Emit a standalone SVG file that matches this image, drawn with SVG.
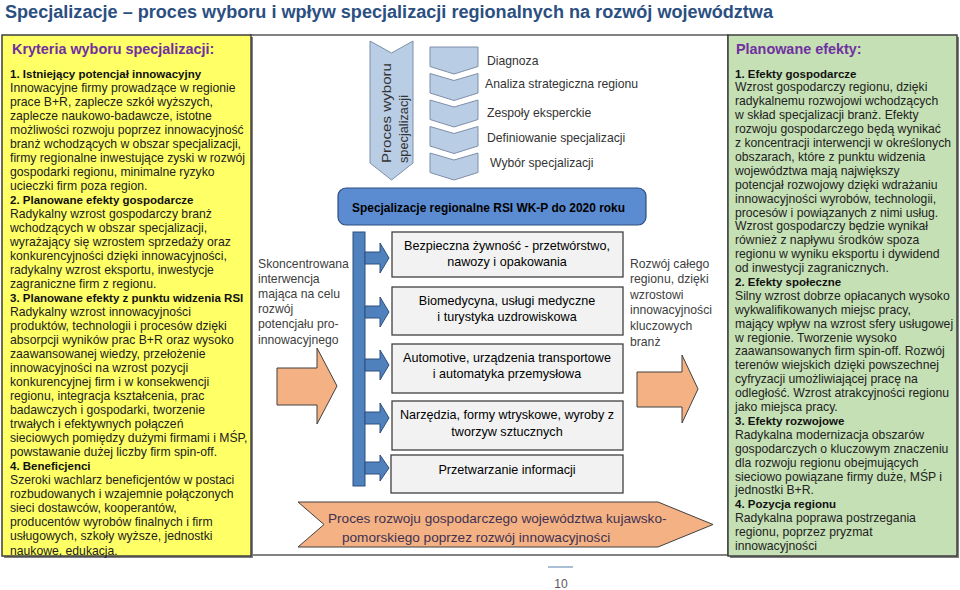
<svg xmlns="http://www.w3.org/2000/svg" width="960" height="590" viewBox="0 0 960 590">
<style>
.t{font-family:"Liberation Sans",Arial,sans-serif;}
.body{font-size:12.2px;fill:#222;}
.bold{font-weight:bold;font-size:11.5px;fill:#111;}
.head{font-weight:bold;font-size:14.4px;fill:#7030A0;}
.gray{font-size:12.2px;fill:#404040;}
.box{fill:#F2F2F2;stroke:#404040;stroke-width:1.3;}
.btxt{font-size:12.6px;fill:#000;text-anchor:middle;}
.chev{fill:#B9CDE5;stroke:#7F8FA9;stroke-width:1;}
.blue{fill:#4F81BD;stroke:#2F4F7F;stroke-width:1;}
.orange{fill:#F4B183;stroke:#404040;stroke-width:1;}
</style>
<rect width="960" height="590" fill="#fff"/>
<text class="t" x="5" y="18" font-size="18" font-weight="bold" fill="#2B4F81" textLength="768" lengthAdjust="spacingAndGlyphs">Specjalizacje – proces wyboru i wpływ specjalizacji regionalnych na rozwój województwa</text>

<g id="frame">
<rect x="250" y="35" width="478" height="520" fill="#fff" stroke="#404040" stroke-width="1.3"/>
</g>

<g id="kryteria">
<rect x="4" y="37" width="249" height="521" fill="#808080"/>
<rect x="2" y="35" width="249" height="521" fill="#FFFF66" stroke="#3F3F3F" stroke-width="1.5"/>
<text class="t head" x="12" y="54">Kryteria wyboru specjalizacji:</text>
<text class="t body">
<tspan x="10" y="77.5" class="bold">1. Istniejący potencjał innowacyjny</tspan>
<tspan x="10" dy="14.03">Innowacyjne firmy prowadzące w regionie</tspan>
<tspan x="10" dy="14.03">prace B+R, zaplecze szkół wyższych,</tspan>
<tspan x="10" dy="14.03">zaplecze naukowo-badawcze, istotne</tspan>
<tspan x="10" dy="14.03">możliwości rozwoju poprzez innowacyjność</tspan>
<tspan x="10" dy="14.03">branż wchodzących w obszar specjalizacji,</tspan>
<tspan x="10" dy="14.03">firmy regionalne inwestujące zyski w rozwój</tspan>
<tspan x="10" dy="14.03">gospodarki regionu, minimalne ryzyko</tspan>
<tspan x="10" dy="14.03">ucieczki firm poza region.</tspan>
<tspan x="10" dy="14.03" class="bold">2. Planowane efekty gospodarcze</tspan>
<tspan x="10" dy="14.03">Radykalny wzrost gospodarczy branż</tspan>
<tspan x="10" dy="14.03">wchodzących w obszar specjalizacji,</tspan>
<tspan x="10" dy="14.03">wyrażający się wzrostem sprzedaży oraz</tspan>
<tspan x="10" dy="14.03">konkurencyjności dzięki innowacyjności,</tspan>
<tspan x="10" dy="14.03">radykalny wzrost eksportu, inwestycje</tspan>
<tspan x="10" dy="14.03">zagraniczne firm z regionu.</tspan>
<tspan x="10" dy="14.03" class="bold">3. Planowane efekty z punktu widzenia RSI</tspan>
<tspan x="10" dy="14.03">Radykalny wzrost innowacyjności</tspan>
<tspan x="10" dy="14.03">produktów, technologii i procesów dzięki</tspan>
<tspan x="10" dy="14.03">absorpcji wyników prac B+R oraz wysoko</tspan>
<tspan x="10" dy="14.03">zaawansowanej wiedzy, przełożenie</tspan>
<tspan x="10" dy="14.03">innowacyjności na wzrost pozycji</tspan>
<tspan x="10" dy="14.03">konkurencyjnej firm i w konsekwencji</tspan>
<tspan x="10" dy="14.03">regionu, integracja kształcenia, prac</tspan>
<tspan x="10" dy="14.03">badawczych i gospodarki, tworzenie</tspan>
<tspan x="10" dy="14.03">trwałych i efektywnych połączeń</tspan>
<tspan x="10" dy="14.03">sieciowych pomiędzy dużymi firmami i MŚP,</tspan>
<tspan x="10" dy="14.03">powstawanie dużej liczby firm spin-off.</tspan>
<tspan x="10" dy="14.03" class="bold">4. Beneficjenci</tspan>
<tspan x="10" dy="14.03">Szeroki wachlarz beneficjentów w postaci</tspan>
<tspan x="10" dy="14.03">rozbudowanych i wzajemnie połączonych</tspan>
<tspan x="10" dy="14.03">sieci dostawców, kooperantów,</tspan>
<tspan x="10" dy="14.03">producentów wyrobów finalnych i firm</tspan>
<tspan x="10" dy="14.03">usługowych, szkoły wyższe, jednostki</tspan>
<tspan x="10" dy="14.03">naukowe, edukacja.</tspan>
</text>
</g>

<g id="efekty">
<rect x="730" y="37" width="229" height="521" fill="#808080"/>
<rect x="728" y="35" width="229" height="521" fill="#C5E0B4" stroke="#3F3F3F" stroke-width="1.5"/>
<text class="t head" x="736" y="54">Planowane efekty:</text>
<text class="t body">
<tspan x="735" y="77.5" class="bold">1. Efekty gospodarcze</tspan>
<tspan x="735" dy="13.9">Wzrost gospodarczy regionu, dzięki</tspan>
<tspan x="735" dy="13.9">radykalnemu rozwojowi wchodzących</tspan>
<tspan x="735" dy="13.9">w skład specjalizacji branż. Efekty</tspan>
<tspan x="735" dy="13.9">rozwoju gospodarczego będą wynikać</tspan>
<tspan x="735" dy="13.9">z koncentracji interwencji w określonych</tspan>
<tspan x="735" dy="13.9">obszarach, które z punktu widzenia</tspan>
<tspan x="735" dy="13.9">województwa mają największy</tspan>
<tspan x="735" dy="13.9">potencjał rozwojowy dzięki wdrażaniu</tspan>
<tspan x="735" dy="13.9">innowacyjności wyrobów, technologii,</tspan>
<tspan x="735" dy="13.9">procesów i powiązanych z nimi usług.</tspan>
<tspan x="735" dy="13.9">Wzrost gospodarczy będzie wynikał</tspan>
<tspan x="735" dy="13.9">również z napływu środków spoza</tspan>
<tspan x="735" dy="13.9">regionu w wyniku eksportu i dywidend</tspan>
<tspan x="735" dy="13.9">od inwestycji zagranicznych.</tspan>
<tspan x="735" dy="13.9" class="bold">2. Efekty społeczne</tspan>
<tspan x="735" dy="13.9">Silny wzrost dobrze opłacanych wysoko</tspan>
<tspan x="735" dy="13.9">wykwalifikowanych miejsc pracy,</tspan>
<tspan x="735" dy="13.9">mający wpływ na wzrost sfery usługowej</tspan>
<tspan x="735" dy="13.9">w regionie. Tworzenie wysoko</tspan>
<tspan x="735" dy="13.9">zaawansowanych firm spin-off. Rozwój</tspan>
<tspan x="735" dy="13.9">terenów wiejskich dzięki powszechnej</tspan>
<tspan x="735" dy="13.9">cyfryzacji umożliwiającej pracę na</tspan>
<tspan x="735" dy="13.9">odległość. Wzrost atrakcyjności regionu</tspan>
<tspan x="735" dy="13.9">jako miejsca pracy.</tspan>
<tspan x="735" dy="13.9" class="bold">3. Efekty rozwojowe</tspan>
<tspan x="735" dy="13.9">Radykalna modernizacja obszarów</tspan>
<tspan x="735" dy="13.9">gospodarczych o kluczowym znaczeniu</tspan>
<tspan x="735" dy="13.9">dla rozwoju regionu obejmujących</tspan>
<tspan x="735" dy="13.9">sieciowo powiązane firmy duże, MŚP i</tspan>
<tspan x="735" dy="13.9">jednostki B+R.</tspan>
<tspan x="735" dy="13.9" class="bold">4. Pozycja regionu</tspan>
<tspan x="735" dy="13.9">Radykalna poprawa postrzegania</tspan>
<tspan x="735" dy="13.9">regionu, poprzez pryzmat</tspan>
<tspan x="735" dy="13.9">innowacyjności</tspan>
</text>
</g>

<g id="proces-wyboru">
<polygon class="chev" points="370,41 391.5,53 413,41 413,163 391.5,180 370,163"/>
<text class="t" font-size="13" fill="#333" transform="translate(391,163) rotate(-90)" textLength="100" lengthAdjust="spacingAndGlyphs">Proces wyboru</text>
<text class="t" font-size="13" fill="#333" transform="translate(408,163) rotate(-90)" textLength="68" lengthAdjust="spacingAndGlyphs">specjalizacji</text>
</g>

<g id="etapy">
<polygon class="chev" points="430,47 478,47 478,66.5 454,74 430,66.5"/>
<polygon class="chev" points="430,73.5 454,80.5 478,73.5 478,93 454,100.5 430,93"/>
<polygon class="chev" points="430,100 454,107 478,100 478,119.5 454,127 430,119.5"/>
<polygon class="chev" points="430,126.5 454,133.5 478,126.5 478,146 454,153.5 430,146"/>
<polygon class="chev" points="430,153 454,160 478,153 478,172.5 454,180 430,172.5"/>
<g class="t" font-size="12.2" fill="#333">
<text x="487" y="65">Diagnoza</text>
<text x="485" y="88">Analiza strategiczna regionu</text>
<text x="487" y="117">Zespoły eksperckie</text>
<text x="487" y="142">Definiowanie specjalizacji</text>
<text x="490" y="167">Wybór specjalizacji</text>
</g>
</g>

<g id="rsi">
<rect x="338" y="188" width="308" height="37" rx="8" fill="#5B8BD0" stroke="#2F4F7F" stroke-width="1.2"/>
<text class="t" x="352" y="211.5" font-size="13.5" font-weight="bold" fill="#000" textLength="273" lengthAdjust="spacingAndGlyphs">Specjalizacje regionalne RSI WK-P do 2020 roku</text>
</g>

<g id="interwencja">
<text class="t gray">
<tspan x="258" y="267.5">Skoncentrowana</tspan>
<tspan x="258" dy="15.2">interwencja</tspan>
<tspan x="258" dy="15.2">mająca na celu</tspan>
<tspan x="258" dy="15.2">rozwój</tspan>
<tspan x="258" dy="15.2">potencjału pro-</tspan>
<tspan x="258" dy="15.2">innowacyjnego</tspan>
</text>
</g>

<g id="rozwoj-regionu">
<text class="t gray">
<tspan x="630" y="267.5">Rozwój całego</tspan>
<tspan x="630" dy="15.6">regionu, dzięki</tspan>
<tspan x="630" dy="15.6">wzrostowi</tspan>
<tspan x="630" dy="15.6">innowacyjności</tspan>
<tspan x="630" dy="15.6">kluczowych</tspan>
<tspan x="630" dy="15.6">branż</tspan>
</text>
</g>

<g id="bar">
<rect class="blue" x="353" y="232" width="12" height="254"/>
</g>

<g id="spec1">
<rect class="box" x="392" y="232" width="231" height="45"/>
<text class="t btxt" x="507" y="250">Bezpieczna żywność - przetwórstwo,</text>
<text class="t btxt" x="507" y="266">nawozy i opakowania</text>
</g>
<g id="spec2">
<rect class="box" x="392" y="287" width="231" height="48"/>
<text class="t btxt" x="507" y="305">Biomedycyna, usługi medyczne</text>
<text class="t btxt" x="507" y="321">i turystyka uzdrowiskowa</text>
</g>
<g id="spec3">
<rect class="box" x="392" y="344" width="231" height="49"/>
<text class="t btxt" x="507" y="362">Automotive, urządzenia transportowe</text>
<text class="t btxt" x="507" y="378">i automatyka przemysłowa</text>
</g>
<g id="spec4">
<rect class="box" x="392" y="401" width="231" height="49"/>
<text class="t btxt" x="507" y="419">Narzędzia, formy wtryskowe, wyroby z</text>
<text class="t btxt" x="507" y="436">tworzyw sztucznych</text>
</g>
<g id="spec5">
<rect class="box" x="391" y="455" width="232" height="38"/>
<text class="t btxt" x="507" y="474">Przetwarzanie informacji</text>
</g>

<g id="connectors">
<polygon class="blue" points="365,252 380,252 380,243 389,258 380,273 380,264 365,264"/>
<polygon class="blue" points="365,306 380,306 380,297 389,312 380,327 380,318 365,318"/>
<polygon class="blue" points="365,359 380,359 380,350 389,365 380,380 380,371 365,371"/>
<polygon class="blue" points="365,412 380,412 380,403 389,418 380,433 380,424 365,424"/>
<polygon class="blue" points="365,462 380,462 380,455 389,468 380,481 380,474 365,474"/>
<polygon class="orange" points="277,368 317,368 317,348 337,386 317,424 317,405 277,405"/>
<polygon class="orange" points="637,372 682,372 682,355 698,389 682,423 682,407 637,407"/>
</g>

<g id="proces-rozwoju">
<polygon class="orange" points="298,502 658,502 713,524.5 658,547 298,547 324,524.5"/>
<text class="t" font-size="13.6" fill="#403152">
<tspan x="328" y="522.5">Proces rozwoju gospodarczego województwa kujawsko-</tspan>
<tspan x="342" y="541.5">pomorskiego poprzez rozwój innowacyjności</tspan>
</text>
</g>

<g id="page">
<line x1="548" y1="567" x2="573" y2="567" stroke="#8EA9C8" stroke-width="1.5"/>
<text class="t" x="561" y="588" font-size="12" fill="#595959" text-anchor="middle">10</text>
</g>
</svg>
